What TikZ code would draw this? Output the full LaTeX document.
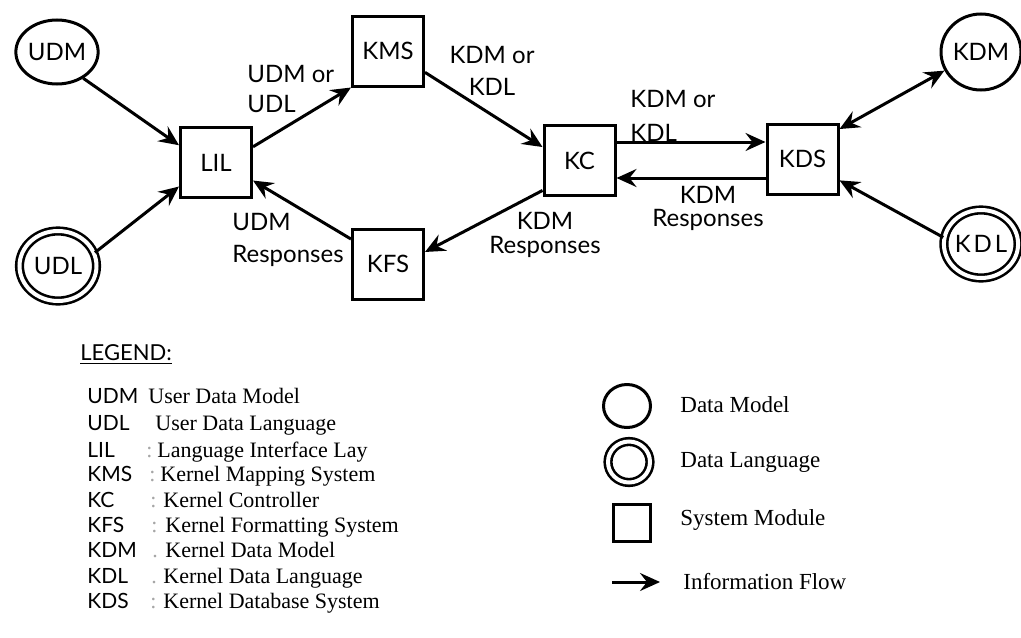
\documentclass[tikz,border=0pt]{standalone}
\usepackage{fontspec}
\setmainfont{Liberation Serif}
\newfontfamily\labelfont{Lato}
\usetikzlibrary{arrows.meta,shapes.geometric}

\tikzset{
  lbfont/.style={font=\labelfont\fontsize{12}{#1}\selectfont},
  mod/.style={draw, line width=1.5pt, minimum width=35.5pt, minimum height=35pt,
              inner sep=0pt, lbfont=14},
  dmodel/.style={ellipse, draw, line width=1.5pt, inner sep=0pt, lbfont=14},
  dlang/.style={ellipse, draw, double, double distance=2pt, line width=1.3pt,
                inner sep=0pt, lbfont=14},
  tip/.tip={Stealth[length=10pt,width=9pt,inset=3.5pt]},
  flow/.style={line width=1.5pt, -tip},
  lbl/.style={inner sep=0pt, lbfont=#1},
  abbr/.style={anchor=base west, inner sep=0pt, font=\labelfont\fontsize{10.5}{12}\selectfont},
  desc/.style={anchor=base west, inner sep=0pt, font=\fontsize{11}{13}\selectfont},
  sep/.style={anchor=base west, inner sep=0pt, text=black!35, font=\fontsize{11}{13}\selectfont},
  key/.style={anchor=west, inner sep=0pt, font=\fontsize{11.5}{13}\selectfont},
}

\begin{document}
\begin{tikzpicture}[x=0.5pt,y=-0.5pt]
\useasboundingbox (0,0) rectangle (1021,637);

% ---- data models, data languages and system modules ----
\node[dmodel, minimum width=41pt, minimum height=32pt] (udm) at (57,52) {UDM};
\node[dlang, minimum width=38.5pt, minimum height=35pt] (udl) at (58,266) {UDL};
\node[mod] (lil) at (216,162.5) {LIL};
\node[mod] (kms) at (388,51) {KMS};
\node[mod] (kfs) at (388,264) {KFS};
\node[mod] (kc)  at (579.5,160.5) {KC};
\node[mod] (kds) at (802.5,159) {KDS};
\node[dmodel, minimum width=40pt, minimum height=38pt] (kdm) at (981,52) {KDM};
\node[dlang, minimum width=36pt, minimum height=34pt] (kdl) at (981,244)
     {K\kern1.5pt D\kern1.5pt L};

% ---- information flow ----
\draw[flow] (udm.-45) -- (lil.155);
\draw[flow] (udl.20) -- (lil.-147);
\draw[flow] (lil.23) -- (kms.south west);
\draw[flow] (kfs.146) -- (lil.-26);
\draw[flow] (kms.-30) -- (kc.160);
\draw[flow] (kc.-141) -- (kfs.18);
\coordinate (kcTop) at ([yshift=9.25pt]kc.east);
\coordinate (kcBot) at ([yshift=-8.75pt]kc.east);
\draw[flow] (kcTop) -- (kcTop -| kds.west);
\draw[flow] (kcBot -| kds.west) -- (kcBot);
\draw[flow, tip-tip] (kds.39) -- (kdm.-153);
\draw[flow] (kdl.170) -- (kds.-30);

% ---- flow labels ----
\node[lbl=15, align=left, anchor=west] (lbA) at (247,89) {UDM or\\UDL};
\node[lbl=16, align=center] (lbB) at (492,71) {KDM or\\KDL};
\node[lbl=16, align=left, anchor=west] (lbC) at (232,240) {UDM\\Responses};
\node[lbl=12, align=center] (lbD) at (545,234.5) {KDM\\Responses};
\node[lbl=17, align=left, anchor=west] (lbE) at (630,116) {KDM or\\KDL};
\node[lbl=11.5, align=center] (lbF) at (708,208.5) {KDM\\Responses};

% ---- legend: abbreviations ----
\node[anchor=base west, inner sep=0pt, font=\labelfont\fontsize{11}{13}\selectfont]
     (legend) at (80,360) {\underline{LEGEND:}};

\node[abbr] (aUDM) at (87,403) {UDM};
\node[abbr] (aUDL) at (87,430) {UDL};
\node[abbr] (aLIL) at (87,457) {LIL};
\node[abbr] (aKMS) at (87,481) {KMS};
\node[abbr] (aKC)  at (87,507) {KC};
\node[abbr] (aKFS) at (87,532) {KFS};
\node[abbr] (aKDM) at (87,557) {KDM};
\node[abbr] (aKDL) at (87,583) {KDL};
\node[abbr] (aKDS) at (87,608) {KDS};

\node[sep] (cLIL) at (146,457) {:};
\node[sep] (cKMS) at (149,481) {:};
\node[sep] (cKC)  at (150,507) {:};
\node[sep] (cKFS) at (151,532) {:};
\node[sep] (cKDM) at (152,557) {.};
\node[sep] (cKDL) at (151,583) {.};
\node[sep] (cKDS) at (150,608) {:};

\node[desc] (dUDM) at (148,403) {User Data Model};
\node[desc] (dUDL) at (155,430) {User Data Language};
\node[desc] (dLIL) at (157,457) {Language Interface Lay};
\node[desc] (dKMS) at (160,481) {Kernel Mapping System};
\node[desc] (dKC)  at (163,507) {Kernel Controller};
\node[desc] (dKFS) at (165,532) {Kernel Formatting System};
\node[desc] (dKDM) at (165,557) {Kernel Data Model};
\node[desc] (dKDL) at (163,583) {Kernel Data Language};
\node[desc] (dKDS) at (163,608) {Kernel Database System};

% ---- legend: symbols ----
\node[dmodel, minimum width=23.5pt, minimum height=21.5pt] (lgModel) at (627,406) {};
\node[dlang, minimum width=21pt, minimum height=20.5pt] (lgLang) at (629,462) {};
\node[mod, minimum width=18.7pt, minimum height=18.7pt] (lgModule) at (632,523) {};
\coordinate (lgA) at (612,582);
\coordinate (lgB) at (660,582);
\draw[flow] (lgA) -- (lgB);

\node[key] (kModel)  at (680,405) {Data Model};
\node[key] (kLang)   at (680,462) {Data Language};
\node[key] (kModule) at (680,520) {System Module};
\node[key] (kFlow)   at (683,582) {Information Flow};
\end{tikzpicture}
\end{document}
